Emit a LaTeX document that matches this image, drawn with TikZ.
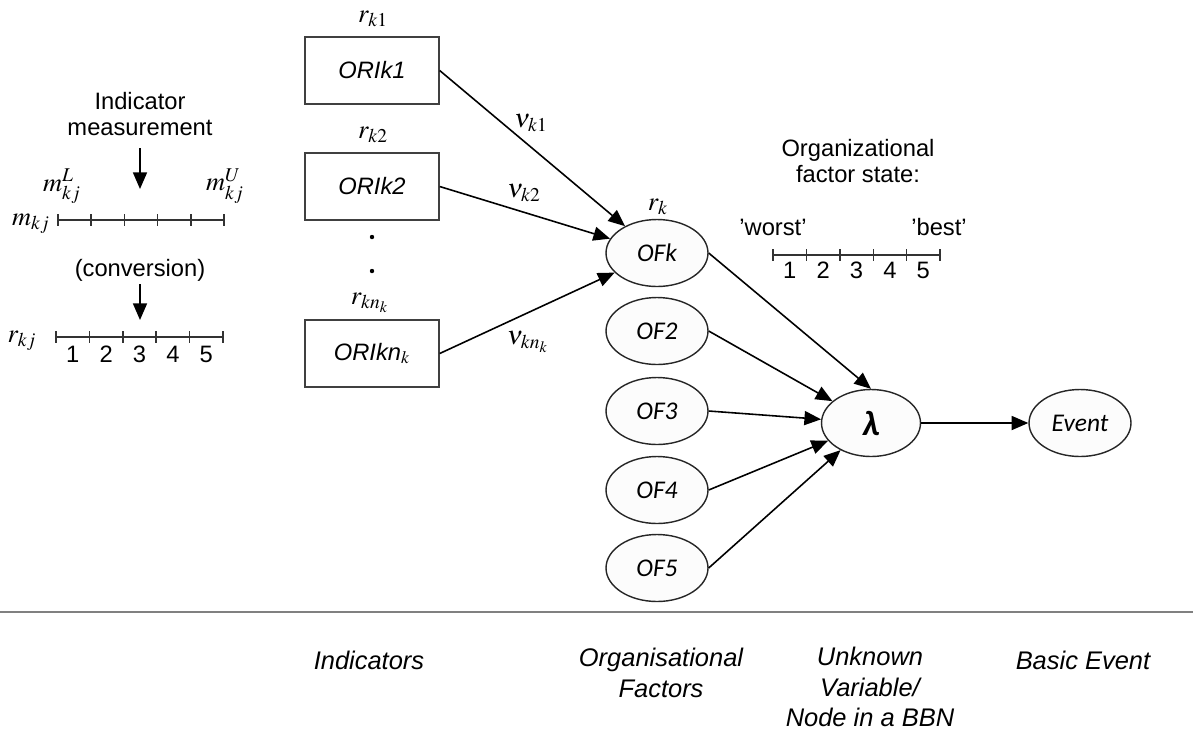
\documentclass[tikz,border=0pt]{standalone}
\usepackage{mathptmx}
\usepackage{fontspec}
\setmainfont{Liberation Sans}
\newfontfamily\calibrifont{Carlito}
\usetikzlibrary{arrows.meta,shapes.geometric}

\tikzset{
  lbl/.style={font=\fontsize{13.5}{16}\selectfont, inner sep=0pt},
  mlbl/.style={font=\fontsize{15}{17}\selectfont, inner sep=0pt},
  caption/.style={font=\fontsize{14.5}{17.5}\selectfont\itshape, align=center, inner sep=0pt},
  oribox/.style={draw=black!75, line width=0.8pt, minimum width=2.68cm, minimum height=1.34cm,
    font=\fontsize{13.5}{16}\selectfont\itshape},
  oval/.style={ellipse, draw=black!85, line width=0.8pt, fill=black!1, minimum width=2.04cm,
    minimum height=1.34cm, inner sep=0pt, font=\calibrifont\fontsize{14.5}{17}\selectfont\itshape},
  link/.style={-{Triangle[length=9.5pt,width=8pt]}, line width=0.9pt},
  scaleline/.style={line width=0.8pt, black!80},
}

\begin{document}
\begin{tikzpicture}[x=0.02cm, y=-0.02cm]
\useasboundingbox (0,0) rectangle (1193,745);

% ---------- indicator measurement and conversion scales ----------
\node[lbl, align=center] (meas) at (140,114) {Indicator\\[-1pt]measurement};
\coordinate (measA) at (140,148);
\coordinate (measB) at (140,189);
\draw[link] (measA) -- (measB);

\node[mlbl] (mL) at (62,186) {$m_{kj}^{L}$};
\node[mlbl] (mU) at (225,186) {$m_{kj}^{U}$};
\node[mlbl] (mkj) at (31,224) {$m_{kj}$};
\draw[scaleline] (58,220) -- (224,220);
\foreach \i in {0,...,5} \draw[scaleline] ({58+\i*33.2},214) -- ({58+\i*33.2},226);

\node[lbl] (conv) at (140,270) {(conversion)};
\coordinate (convA) at (140,284);
\coordinate (convB) at (140,320);
\draw[link] (convA) -- (convB);

\node[mlbl] (rkj) at (22,341) {$r_{kj}$};
\draw[scaleline] (56,337) -- (223,337);
\foreach \i in {0,...,5} \draw[scaleline] ({56+\i*33.4},331) -- ({56+\i*33.4},343);
\foreach \i in {1,...,5} \node[lbl] (rn\i) at ({56+(\i-0.5)*33.4},354) {\i};

% ---------- indicator boxes ----------
\node[oribox] (b1) at (372,70.5) {ORIk1};
\node[oribox] (b2) at (372,186.5) {ORIk2};
\node[oribox] (bn) at (372,353.5) {ORIkn$_{k}$};

\node[mlbl] (r1) at (373,19) {$r_{k1}$};
\node[mlbl] (r2) at (373,135) {$r_{k2}$};
\node[mlbl] (rn) at (370,303) {$r_{kn_k}$};

\fill (372,237) circle (2.2);
\fill (372,271) circle (2.2);

% ---------- organisational factors ----------
\node[oval] (ofk) at (657,253) {OFk};
\node[oval] (of2) at (657,331) {OF2};
\node[oval] (of3) at (657,411) {OF3};
\node[oval] (of4) at (657,490) {OF4};
\node[oval] (of5) at (657,568) {OF5};
\node[mlbl] (rk) at (658,207) {$r_{k}$};

\node[oval, minimum width=1.98cm, font=\calibrifont\fontsize{20}{22}\selectfont\itshape\bfseries] (lam) at (871,423) {λ};
\node[oval] (ev) at (1080,423) {Event};

% ---------- weighted links ----------
\draw[link] (b1.east) -- (ofk);
\draw[link] (b2.east) -- (ofk);
\draw[link] (bn.east) -- (ofk);
\node[mlbl] (v1) at (531,123) {$\nu_{k1}$};
\node[mlbl] (v2) at (524,193) {$\nu_{k2}$};
\node[mlbl] (vn) at (528,342) {$\nu_{kn_k}$};

\draw[link] (ofk.east) -- (lam.north);
\draw[link] (of2.east) -- (lam);
\draw[link] (of3.east) -- (lam);
\draw[link] (of4.east) -- (lam);
\draw[link] (of5.east) -- (lam);
\draw[link] (lam.east) -- (ev.west);

% ---------- organisational factor state scale ----------
\node[lbl, align=center] (ofs) at (858,161) {Organizational\\[-1pt]factor state:};
\node[lbl] (worst) at (773,227) {'worst'};
\node[lbl] (best) at (939,227) {'best'};
\draw[scaleline] (773,255) -- (940,255);
\foreach \i in {0,...,5} \draw[scaleline] ({773+\i*33.4},249) -- ({773+\i*33.4},261);
\foreach \i in {1,...,5} \node[lbl] (sn\i) at ({773+(\i-0.5)*33.4},270) {\i};

% ---------- separator and column captions ----------
\draw[line width=1.2pt, black!50] (0,612) -- (1193,612);
\node[caption] (c1) at (369,660) {Indicators};
\node[caption] (c2) at (661,673) {Organisational\\Factors};
\node[caption] (c3) at (870,687) {Unknown\\Variable/\\Node in a BBN};
\node[caption] (c4) at (1083,660) {Basic Event};
\end{tikzpicture}
\end{document}
